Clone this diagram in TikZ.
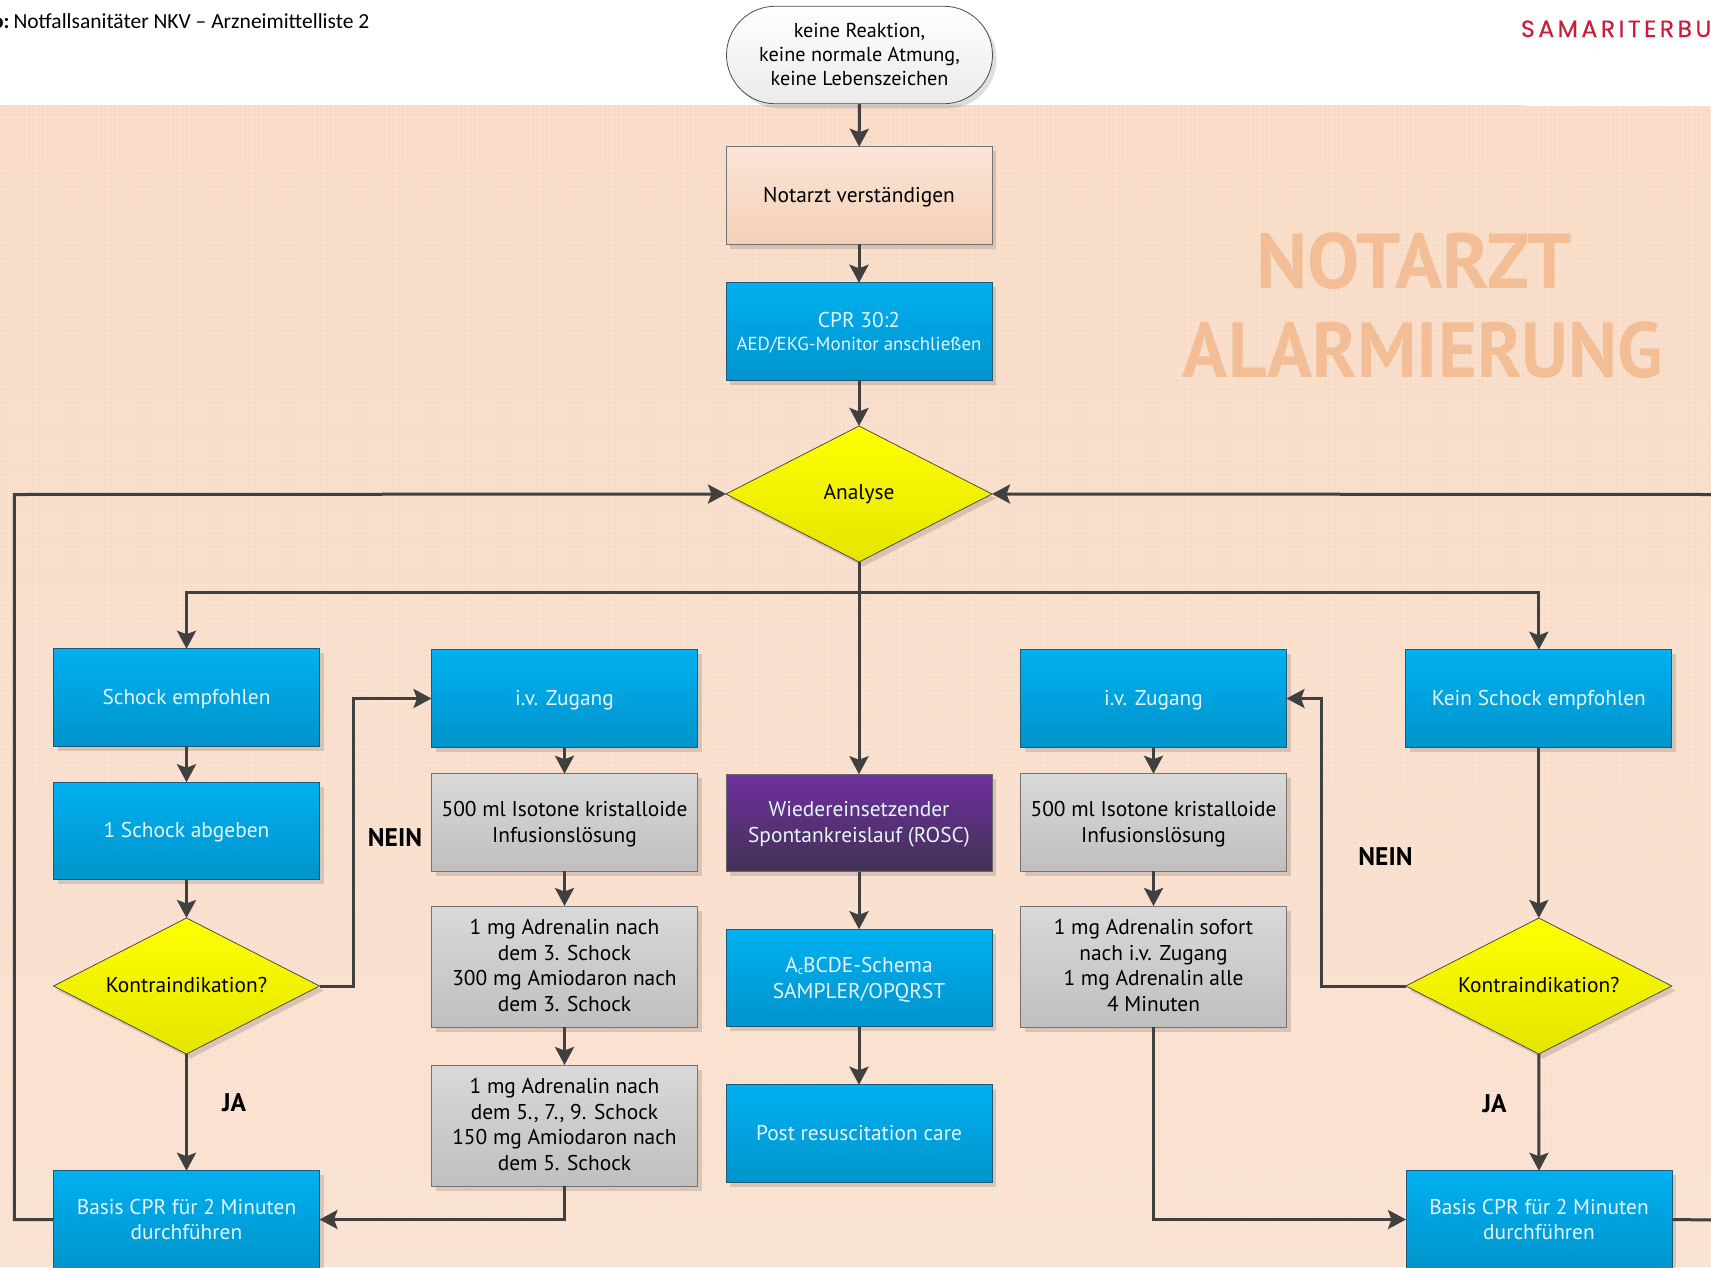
\documentclass[tikz,border=0pt]{standalone}
\usepackage{fontspec}
\setmainfont{PT Sans}
\newfontfamily\carlito{Carlito}
\newfontfamily\logofont[LetterSpace=15,FakeBold=0.4]{Poppins}
\usetikzlibrary{arrows.meta,shapes.geometric,shapes.misc,shadows,calc}
\definecolor{linecol}{HTML}{404040}
\definecolor{boxtext}{RGB}{228,245,252}
\tikzset{
  every node/.style={inner sep=0pt,outer sep=0pt},
  softshadow/.style={general shadow={fill=black,opacity=.13,shadow xshift=4pt,shadow yshift=-4.5pt}},
  flow/.style={rectangle,minimum width=266pt,minimum height=97.5pt,align=center,
    font=\fontsize{21.4}{25.9}\selectfont,softshadow},
  blue/.style={flow,top color={rgb,255:red,0;green,176;blue,240},bottom color={rgb,255:red,0;green,148;blue,204},draw={rgb,255:red,30;green,90;blue,120},line width=1pt,text=boxtext},
  grey/.style={flow,top color={rgb,255:red,217;green,217;blue,217},bottom color={rgb,255:red,191;green,191;blue,191},draw=black!55,line width=1pt,text=black},
  purple/.style={flow,top color={rgb,255:red,112;green,48;blue,160},bottom color={rgb,255:red,64;green,49;blue,82},draw=black!60,line width=1pt,text=boxtext},
  peachbox/.style={flow,top color={rgb,255:red,251;green,229;blue,214},bottom color={rgb,255:red,244;green,208;blue,184},draw=black!55,line width=1pt,text=black},
  pill/.style={flow,rounded rectangle,top color=white,bottom color=black!8,draw=black!70,line width=.8pt,text=black,
    font=\fontsize{20.2}{24}\selectfont},
  decision/.style={diamond,aspect=1.97,minimum width=266pt,minimum height=136pt,top color=yellow,bottom color={rgb,255:red,229;green,229;blue,0},
    draw=black!70,line width=.8pt,text=black,align=center,font=\fontsize{21.4}{25}\selectfont,softshadow},
  link/.style={draw=linecol,line width=3pt,-{Stealth[length=18pt,width=19pt,inset=3.5pt]}},
  plainlink/.style={draw=linecol,line width=3pt},
  answer/.style={font=\bfseries\fontsize{25.5}{30}\selectfont,text=black},
  bigtext/.style={font=\bfseries\fontsize{78}{90}\selectfont,text={rgb,255:red,243;green,190;blue,149},anchor=base},
}
\newcommand{\lowered}[1]{\rule{0pt}{#1pt}}
\newcommand{\lifted}[1]{\rule[-#1pt]{0pt}{0pt}}
\begin{document}
\begin{tikzpicture}[x=1pt,y=-1pt]
\useasboundingbox (0,0) rectangle (1711,1267);
\begin{scope}
\clip (0,105) rectangle (1522,1267) (1522,106) rectangle (1711,1267);
\shade[top color={rgb,255:red,248;green,218;blue,196},bottom color={rgb,255:red,250;green,224;blue,206}] (0,105) rectangle (1711,1267);
\draw[white,opacity=.15,line width=1.5pt,step=4.5pt] (0,105) grid (1711,1267);
\end{scope}
\node[anchor=base east,font=\carlito\bfseries\fontsize{21.5}{24}\selectfont] (hb) at (9.5,28) {o:};
\node[anchor=base west,font=\carlito\fontsize{21.5}{24}\selectfont] (ht) at (13.5,28) {Notfallsanitäter NKV – Arzneimittelliste 2};
\node[anchor=base west,font=\logofont\fontsize{23.5}{26}\selectfont,text={rgb,255:red,200;green,30;blue,60}] (logo) at (1521,37) {SAMARITERBU};
\node[bigtext] (t1) at (1414,288) {NOTARZT};
\node[bigtext] (t2) at (1423,377) {\scalebox{.956}[1]{ALARMIERUNG}};

\node[pill] (start) at (859.5,55) {keine Reaktion,\\keine normale Atmung,\\keine Lebenszeichen\lifted{2}};
\node[peachbox] (notarzt) at (859,195.5) {\lowered{18.5}Notarzt verständigen};
\node[blue] (cpr) at (859,331.5) {\lowered{18}CPR 30:2\\[-3pt]{\fontsize{18.85}{23}\selectfont AED/EKG-Monitor anschließen}};
\node[decision] (analyse) at (859,494) {Analyse};
\node[blue] (schock) at (186.5,697.5) {\lowered{18}Schock empfohlen};
\node[blue] (eins) at (186.5,831) {\lowered{18}1 Schock abgeben};
\node[decision] (kontraL) at (186.5,986) {Kontraindikation?\lifted{2}};
\node[blue] (basisL) at (186.5,1219.5) {Basis CPR für 2 Minuten\\durchführen};
\node[blue] (ivL) at (564.5,698.5) {\lowered{18}i.v. Zugang};
\node[grey] (infL) at (564.5,822.5) {\lowered{18}500 ml Isotone kristalloide\\Infusionslösung};
\node[grey,minimum height=121pt] (adrL) at (564.5,966.5) {1 mg Adrenalin nach\\dem 3. Schock\\300 mg Amiodaron nach\\dem 3. Schock\lifted{2.3}};
\node[grey,minimum height=121pt] (adrLL) at (564.5,1125.5) {1 mg Adrenalin nach\\dem 5., 7., 9. Schock\\150 mg Amiodaron nach\\dem 5. Schock\lifted{2.3}};
\node[purple] (rosc) at (859,823) {\lowered{18}Wiedereinsetzender\\Spontankreislauf (ROSC)};
\node[blue] (abc) at (859,978) {\lowered{18}A\raisebox{-2.5pt}{\fontsize{12}{12}\selectfont c}BCDE-Schema\\SAMPLER/OPQRST};
\node[blue] (post) at (859,1133.5) {Post resuscitation care};
\node[blue] (ivR) at (1153.5,698.5) {\lowered{18}i.v. Zugang};
\node[grey] (infR) at (1153.5,822.5) {\lowered{18}500 ml Isotone kristalloide\\Infusionslösung};
\node[grey,minimum height=121pt] (adrR) at (1153.5,966.5) {1 mg Adrenalin sofort\\nach i.v. Zugang\\1 mg Adrenalin alle\\4 Minuten\lifted{2.3}};
\node[blue] (kein) at (1538.8,698.5) {\lowered{18}Kein Schock empfohlen};
\node[decision] (kontraR) at (1538.8,986) {Kontraindikation?\lifted{2}};
\node[blue] (basisR) at (1539,1219.5) {Basis CPR für 2 Minuten\\durchführen};

\node[answer] (neinL) at (395,838) {NEIN};
\node[answer] (jaL) at (234,1103) {JA};
\node[answer] (neinR) at (1385.5,857) {NEIN};
\node[answer] (jaR) at (1494.5,1104) {JA};

\coordinate (bus) at (analyse.south |- 0,592);
\coordinate (loopL) at (14.3,494.5);
\coordinate (edgeU) at (1713,494.5);
\coordinate (edgeD) at (1713,1220);
\coordinate (turnL) at (353.8,698.5);
\coordinate (turnR) at (1321.7,698.5);

\draw[link] (start) -- (notarzt);
\draw[link] (notarzt) -- (cpr);
\draw[link] (cpr) -- (analyse);
\draw[link] (analyse) -- (rosc);
\draw[link] (bus) -| (schock);
\draw[link] (bus) -| (kein);
\draw[link] (rosc) -- (abc);
\draw[link] (abc) -- (post);
\draw[link] (schock) -- (eins);
\draw[link] (eins) -- (kontraL);
\draw[link] (kontraL) -- (basisL);
\draw[link] (kontraL.east) -| (turnL) -- (ivL.west);
\draw[link] (ivL) -- (infL);
\draw[link] (infL) -- (adrL);
\draw[link] (adrL) -- (adrLL);
\draw[link] (adrLL.south) |- (basisL.east);
\draw[link] (basisL.west) -| (loopL) -- (analyse.west);
\draw[link] (kein) -- (kontraR);
\draw[link] (kontraR) -- (basisR);
\draw[link] (kontraR.west) -| (turnR) -- (ivR.east);
\draw[link] (ivR) -- (infR);
\draw[link] (infR) -- (adrR);
\draw[link] (adrR.south) |- (basisR.west);
\draw[plainlink] (basisR.east) -- (edgeD);
\draw[link] (edgeU) -- (analyse.east);
\end{tikzpicture}
\end{document}
